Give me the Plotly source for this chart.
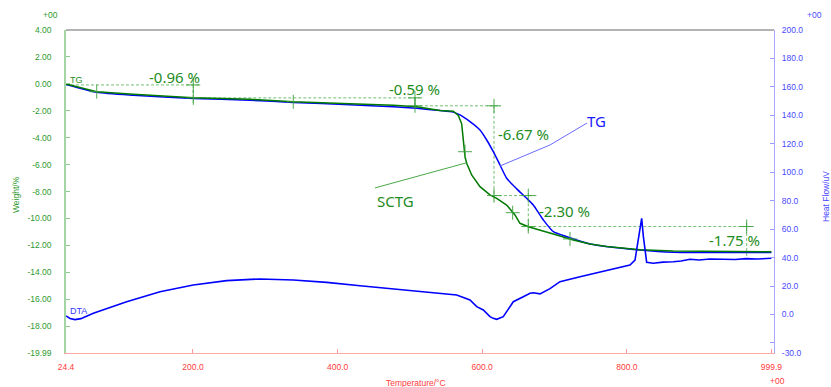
import plotly.graph_objects as go

# ---------------- data ----------------
temp_sctg = [24.4, 66.9, 117.5, 200.4, 278.9, 338.7, 417.1, 477.0, 509.4, 541.6, 560.0, 566.9,
             571.6, 573.8, 576.2, 578.5, 585.4, 596.9, 610.7, 620.0, 633.8, 645.3, 652.2, 663.7,
             679.9, 703.0, 725.9, 749.0, 772.1, 818.2, 864.0, 930.0, 999.9]
w_sctg = [0.0, -0.58, -0.78, -1.03, -1.15, -1.33, -1.47, -1.58, -1.70, -1.98, -2.03, -2.35,
          -2.97, -4.17, -5.41, -5.90, -6.77, -7.64, -8.25, -8.50, -9.00, -9.74, -10.36, -10.61,
          -10.85, -11.23, -11.60, -11.89, -12.09, -12.32, -12.41, -12.45, -12.47]

temp_tg = [24.4, 66.9, 117.5, 200.4, 278.9, 338.7, 417.1, 477.0, 509.4, 541.6, 560.0, 569.3,
           583.1, 596.9, 606.2, 615.3, 624.6, 633.8, 647.7, 661.5, 670.6, 684.5, 698.3, 716.8,
           749.0, 818.2, 864.0, 930.0, 999.9]
w_tg = [-0.05, -0.63, -0.85, -1.08, -1.22, -1.38, -1.55, -1.70, -1.82, -1.98, -2.10, -2.31,
        -2.81, -3.43, -4.17, -5.04, -6.03, -7.01, -7.80, -8.50, -9.00, -10.11, -10.98, -11.35,
        -11.89, -12.34, -12.51, -12.52, -12.52]

temp_dta = [24.4, 30.0, 36.8, 45.0, 62.2, 108.3, 154.4, 200.4, 246.6, 292.7, 338.7, 384.9,
            431.0, 477.0, 523.2, 541.6, 564.7, 583.1, 592.4, 601.5, 610.7, 615.3, 620.0, 629.1,
            643.0, 656.8, 666.1, 670.6, 679.9, 693.7, 707.6, 735.2, 762.9, 790.5, 804.3, 811.3,
            813.6, 815.8, 818.2, 820.5, 822.8, 825.1, 827.4, 836.6, 850.0, 864.2, 875.0, 887.3,
            900.0, 915.0, 933.4, 950.0, 965.0, 980.0, 999.9]
hf_dta = [-1.0, -2.8, -3.6, -2.9, 0.8, 9.0, 16.0, 20.7, 23.8, 25.0, 24.3, 22.6,
          20.2, 17.9, 16.0, 14.9, 13.7, 10.2, 5.5, 3.2, -1.5, -2.7, -3.4, -1.5,
          9.0, 12.5, 14.9, 15.3, 14.5, 18.2, 23.1, 26.6, 30.1, 33.2, 34.8, 38.3,
          46.5, 53.0, 62.0, 67.6, 55.0, 45.0, 36.7, 36.0, 36.8, 37.1, 37.6, 38.8,
          38.3, 39.0, 39.0, 38.7, 39.3, 39.0, 39.5]

# step analysis (mass-loss steps)
step_labels = ["-0.96 %", "-0.59 %", "-6.67 %", "-2.30 %", "-1.75 %"]
step_T = [200.4, 507.0, 616.3, 663.7, 965.7]
level_W = [-0.08, -1.04, -1.63, -8.30, -10.60]
h_start = [24.4, 200.4, 507.0, 616.3, 663.7]
h_end = [210.0, 514.0, 625.0, 675.0, 972.0]
v_top = [-0.08, -1.04, -1.63, -8.13, -10.33]
v_bot = [-1.44, -1.85, -8.75, -11.10, -12.88]
label_T = [175.1, 505.7, 656.4, 713.1, 948.2]
label_W = [0.51, -0.38, -3.72, -9.44, -11.60]

plus_T = [66.9, 200.4, 200.4, 338.7, 507.0, 507.0, 576.2, 616.3, 616.3, 642.1, 663.7, 663.7, 721.4, 965.7]
plus_W = [-0.58, -0.08, -1.04, -1.33, -1.04, -1.63, -5.04, -1.63, -8.30, -9.57, -8.30, -10.60, -11.52, -10.60]

# curve name pointers
tg_ptr_T = [624.6, 693.7, 744.9]
tg_ptr_W = [-6.10, -4.54, -2.91]
tg_lbl = (758.7, -2.76)
sctg_ptr_T = [451.7, 578.5]
sctg_ptr_W = [-7.73, -5.86]
sctg_lbl = (479.4, -8.70)

x_ticks = [24.4, 200.0, 400.0, 600.0, 800.0, 999.9]
x_ticktext = ["24.4", "200.0", "400.0", "600.0", "800.0", "999.9"]
yl_ticks = [4, 2, 0, -2, -4, -6, -8, -10, -12, -14, -16, -18, -19.99]
yl_ticktext = ["4.00", "2.00", "0.00", "-2.00", "-4.00", "-6.00", "-8.00", "-10.00", "-12.00",
               "-14.00", "-16.00", "-18.00", "-19.99"]
yr_ticks = [200, 180, 160, 140, 120, 100, 80, 60, 40, 20, 0, -20, -27.07]
yr_ticktext = ["200.0", "180.0", "160.0", "140.0", "120.0", "100.0", "80.0", "60.0", "40.0",
               "20.0", "0.0", "", "-30.0"]

# ---------------- colours ----------------
GREEN_TXT = "#2e9a2e"
BLUE_TXT = "#4a4aff"
RED_TXT = "#ff3b3b"
STEP_COL = "rgba(70,170,70,0.75)"
SMALL = "Liberation Sans, Arial, sans-serif"
BIG = "Noto Sans, Open Sans, sans-serif"

fig = go.Figure()

# DTA (right axis)
fig.add_trace(go.Scatter(x=temp_dta, y=hf_dta, mode="lines", yaxis="y2",
                         line=dict(color="#0000ff", width=1.6), hoverinfo="skip"))

# step lines
sx, sy = [], []
for i in range(len(step_T)):
    sx += [h_start[i], h_end[i], None, step_T[i], step_T[i], None]
    sy += [level_W[i], level_W[i], None, v_top[i], v_bot[i], None]
fig.add_trace(go.Scatter(x=sx, y=sy, mode="lines",
                         line=dict(color=STEP_COL, width=1, dash="3px,2px"), hoverinfo="skip"))

# TG (blue) and SCTG (green)
fig.add_trace(go.Scatter(x=temp_tg, y=w_tg, mode="lines",
                         line=dict(color="#0000ff", width=1.5, shape="spline", smoothing=0.6),
                         hoverinfo="skip"))
fig.add_trace(go.Scatter(x=temp_sctg, y=w_sctg, mode="lines",
                         line=dict(color="#007a00", width=1.5), hoverinfo="skip"))

# plus markers
fig.add_trace(go.Scatter(x=plus_T, y=plus_W, mode="markers",
                         marker=dict(symbol="cross-thin", size=10,
                                     line=dict(color="rgba(60,160,60,0.9)", width=1)),
                         hoverinfo="skip"))

# pointer lines
fig.add_trace(go.Scatter(x=tg_ptr_T, y=tg_ptr_W, mode="lines",
                         line=dict(color="#6b6bff", width=1), hoverinfo="skip"))
fig.add_trace(go.Scatter(x=sctg_ptr_T, y=sctg_ptr_W, mode="lines",
                         line=dict(color="#4aa84a", width=1), hoverinfo="skip"))


def paper_text(px, py, text, color, size=8.5, angle=0):
    return dict(x=(px - 66) / 708, y=(353 - py) / 323, xref="paper", yref="paper",
                text=text, textangle=angle, showarrow=False,
                xanchor="center", yanchor="middle",
                font=dict(family=SMALL, size=size, color=color))


ann = []
for t, w, s in zip(label_T, label_W, step_labels):
    ann.append(dict(x=t, y=w, xref="x", yref="y", text=s, showarrow=False,
                    xanchor="center", yanchor="middle",
                    font=dict(family=BIG, size=15, color="#1e8c1e")))
ann.append(dict(x=tg_lbl[0], y=tg_lbl[1], xref="x", yref="y", text="TG", showarrow=False,
                xanchor="center", yanchor="middle",
                font=dict(family=BIG, size=15, color="#1a1aff")))
ann.append(dict(x=sctg_lbl[0], y=sctg_lbl[1], xref="x", yref="y", text="SCTG", showarrow=False,
                xanchor="center", yanchor="middle",
                font=dict(family=BIG, size=15, color="#1e8c1e")))
# small curve legends
ann.append(dict(x=0.003, y=(353 - 80) / 323, xref="paper", yref="paper", text="TG",
                xanchor="left", yanchor="middle", showarrow=False,
                font=dict(family=SMALL, size=9, color="#1e8c1e")))
ann.append(dict(x=0.003, y=(353 - 310.5) / 323, xref="paper", yref="paper", text="DTA",
                xanchor="left", yanchor="middle", showarrow=False,
                font=dict(family=SMALL, size=9, color="#3a3aff")))
# exponent markers
ann.append(paper_text(50, 15, "+00", GREEN_TXT))
ann.append(paper_text(814, 15, "+00", BLUE_TXT))
ann.append(paper_text(777, 381, "+00", RED_TXT))
# axis titles
ann.append(paper_text(16, 195, "Weight/%", GREEN_TXT, angle=-90))
ann.append(paper_text(826, 197, "Heat Flow/uV", BLUE_TXT, angle=-90))
ann.append(paper_text(416, 383, "Temperature/°C", RED_TXT))

fig.update_layout(
    width=831, height=387,
    margin=dict(l=66, r=57, t=30, b=34, autoexpand=False),
    paper_bgcolor="white", plot_bgcolor="white",
    showlegend=False,
    xaxis=dict(range=[24.4, 1003.5], tickvals=x_ticks, ticktext=x_ticktext,
               showline=True, linecolor="#ffa8a8", linewidth=1.2,
               ticks="inside", ticklen=4, tickcolor="#ff9a9a",
               tickfont=dict(family=SMALL, size=8.5, color=RED_TXT),
               ticklabelstandoff=6, showgrid=False, zeroline=False, automargin=False),
    yaxis=dict(range=[-19.995, 4.002], tickvals=yl_ticks, ticktext=yl_ticktext,
               showline=True, linecolor="#a3d6a3", linewidth=1.5,
               ticks="inside", ticklen=4, tickcolor="#8fcc8f",
               tickfont=dict(family=SMALL, size=8.5, color=GREEN_TXT),
               ticklabelstandoff=11, showgrid=False, zeroline=False, automargin=False),
    yaxis2=dict(range=[-27.07, 200.02], tickvals=yr_ticks, ticktext=yr_ticktext,
                overlaying="y", side="right", anchor="x",
                showline=True, linecolor="#a8a8ff", linewidth=1.2,
                ticks="inside", ticklen=4, tickcolor="#9a9aff",
                tickfont=dict(family=SMALL, size=8.5, color=BLUE_TXT),
                ticklabelstandoff=5, showgrid=False, zeroline=False, automargin=False),
    shapes=[dict(type="line", xref="paper", yref="paper", x0=0, x1=1, y0=1, y1=1,
                 line=dict(color="#9a9a9a", width=1.5))],
    annotations=ann,
)

fig.write_html("out.html", config={"displayModeBar": False},
               post_script="document.body.style.margin='0px';document.body.style.padding='0px';")
